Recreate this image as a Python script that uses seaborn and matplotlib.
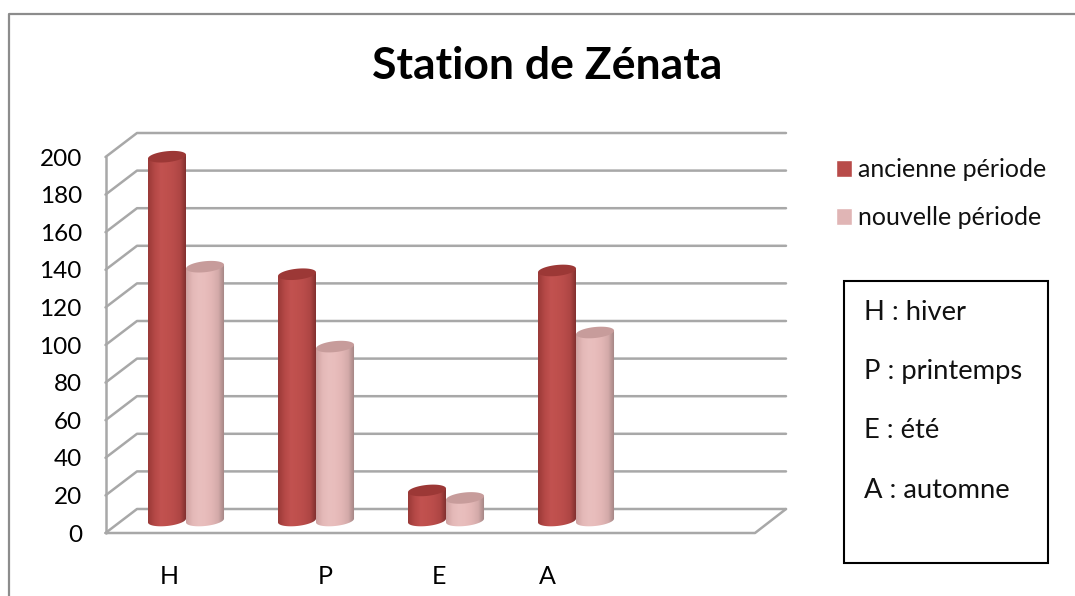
import matplotlib
matplotlib.use("Agg")
import matplotlib.pyplot as plt
from matplotlib.patches import Polygon, Rectangle
import numpy as np
import pandas as pd
import seaborn as sns

# seasons, the blank one keeps the empty slot on the right of the chart
seasons = ["H", "P", "E", "A", ""]
ancienne = [193.5, 131, 16, 133, np.nan]
nouvelle = [135, 92.5, 12, 100, np.nan]
yticks = list(range(0, 201, 20))
series_names = ["ancienne période", "nouvelle période"]
box_lines = ["H : hiver", "P : printemps", "E : été", "A : automne"]
season_label_x = [169, 325, 439, 547]

W, H = 1075, 596
sns.set_theme(style="white")
plt.rcParams["font.family"] = ["Lato", "DejaVu Sans"]

df = pd.DataFrame({
    "season": seasons * 2,
    "period": [series_names[0]] * 5 + [series_names[1]] * 5,
    "value": ancienne + nouvelle,
})


def px_axes(fig, x0, x1, y_bottom, y_top, **kw):
    return fig.add_axes([x0 / W, 1 - y_bottom / H, (x1 - x0) / W, (y_bottom - y_top) / H], **kw)


def fx(x):
    return x / W


def fy(y):
    return 1 - y / H


fig = plt.figure(figsize=(W / 100, H / 100), dpi=100, facecolor="white")

# outer frame, only top and left are visible in the picture
fig.add_artist(plt.Line2D([fx(9), fx(9), 1], [0, fy(14), fy(14)], color="#8c8c8c", lw=1.6))

# front plane of the fake 3d box, x in pixels
back = px_axes(fig, 105.5, 755, 533, 157)
back.set_xlim(105.5, 755)
back.set_ylim(0, 200)
depth = 24 / 1.88
grid_col = "#a8a8a8"
for v in yticks:
    back.plot([105.5, 137, 786], [v, v + depth, v + depth], color=grid_col, lw=1.8, clip_on=False)
back.plot([105.5, 105.5], [0, 200], color=grid_col, lw=1.8, clip_on=False)
back.plot([105.5, 755, 786], [0, 0, depth], color=grid_col, lw=1.8, clip_on=False)
sns.despine(ax=back, left=True, bottom=True)
back.set_xticks([])
back.set_yticks(yticks)
back.tick_params(axis="y", length=0, pad=17, labelsize=17.5, labelcolor="black")

# bars stand in the middle of the depth
ax = px_axes(fig, 121, 771, 520.5, 144.5)
ax.patch.set_alpha(0)
sns.barplot(data=df, x="season", y="value", hue="period", order=seasons, hue_order=series_names,
            palette=["#B84B49", "#E0B5B5"], width=0.585, gap=0, ax=ax, legend=True, saturation=1)
ax.set_xlim(-0.5, 4.5)
ax.set_ylim(0, 200)
ax.set_xlabel("")
ax.set_ylabel("")
ax.set_xticks([])
ax.set_yticks([])
sns.despine(ax=ax, left=True, bottom=True)

shades = [
    ["#9a3a38", "#b54846", "#c25250", "#bf504d", "#b94c4a", "#ae4644", "#7c2d2c"],
    ["#cfa2a1", "#e4b9b8", "#e9bfbe", "#e8bdbc", "#e2b6b5", "#d4aaa9", "#a08281"],
]
tops = ["#9c3836", "#c79c9b"]
e = 5.5 / 1.88   # half height of the ellipses, in value units
s = 1.0          # small tilt of the ellipses
t = np.linspace(0, 2 * np.pi, 80)
for k, cont in enumerate(ax.containers):
    cmap = matplotlib.colors.LinearSegmentedColormap.from_list("c", shades[k])
    for bar in cont:
        h = bar.get_height()
        if not np.isfinite(h) or h == 0:
            continue
        bar.set_visible(False)
        x0, w = bar.get_x(), bar.get_width()
        cx = x0 + w / 2
        low = np.linspace(np.pi, 2 * np.pi, 40)
        body = np.column_stack([cx + w / 2 * np.cos(low), e * np.sin(low) + s * np.cos(low)])
        body = np.vstack([body, [cx + w / 2, h + s], [cx - w / 2, h - s]])
        clip = Polygon(body, closed=True, transform=ax.transData, fc="none", ec="none", clip_on=False)
        ax.add_patch(clip)
        im = ax.imshow(np.linspace(0, 1, 64)[None, :], extent=[x0, x0 + w, -e - 2, h + e], aspect="auto",
                       cmap=cmap, zorder=3 + k)
        # images are cut to the axes box unless given a wider one
        im.set_clip_box(fig.bbox)
        im.set_clip_path(clip)
        top = np.column_stack([cx + w / 2 * np.cos(t), h + e * np.sin(t) + s * np.cos(t)])
        ax.add_patch(Polygon(top, closed=True, fc=tops[k], ec="none", zorder=3.5 + k, clip_on=False))
ax.set_xlim(-0.5, 4.5)
ax.set_ylim(0, 200)

# legend
handles, labels = ax.get_legend_handles_labels()
ax.get_legend().remove()
fig.legend(handles, labels, loc="upper left", bbox_to_anchor=(fx(836), fy(158)), frameon=False,
           handlelength=0.65, handleheight=0.65, handletextpad=0.23, labelspacing=1.0, fontsize=18,
           labelcolor="#111111", borderpad=0, borderaxespad=0)

# title and typed labels
fig.text(fx(547.5), fy(66), "Station de Zénata", ha="center", va="center", fontsize=32,
         fontweight="bold", color="black")
for lab, xp in zip(seasons[:4], season_label_x):
    fig.text(fx(xp), fy(576), lab, ha="center", va="center", fontsize=18, color="black")

fig.add_artist(Rectangle((fx(844), fy(563)), (1048 - 844) / W, (563 - 281) / H, transform=fig.transFigure,
                         fc="white", ec="black", lw=1.5))
for lab, yp in zip(box_lines, [312, 372, 431, 491]):
    fig.text(fx(864), fy(yp), lab, ha="left", va="center", fontsize=19.7, color="#111111")

fig.savefig("out.png", dpi=100)
